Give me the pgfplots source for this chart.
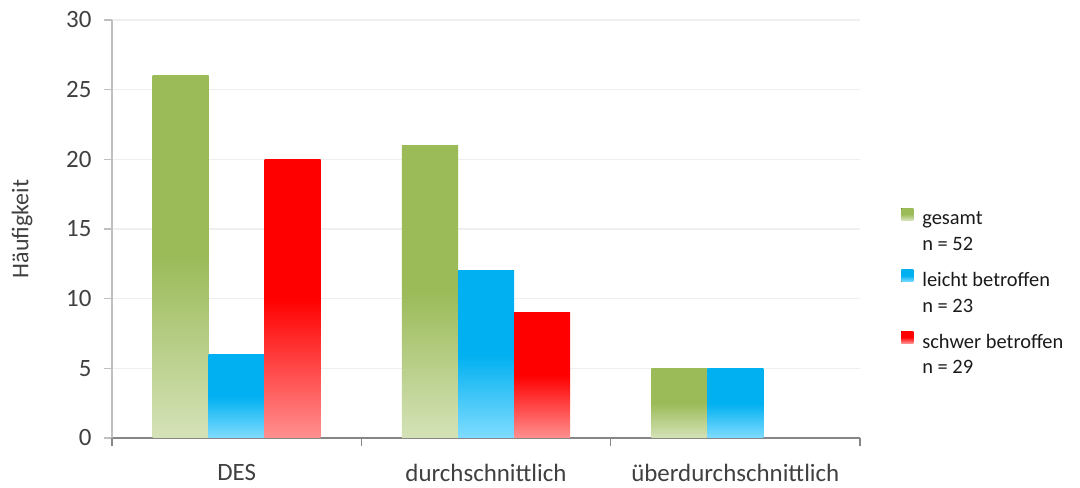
\documentclass[border=0pt]{standalone}
\usepackage{fontspec}
\setmainfont{Carlito}
\usepackage{pgfplots}
\pgfplotsset{compat=1.18}

\definecolor{txt}{HTML}{404040}
\definecolor{legtxt}{HTML}{1A1A1A}
\definecolor{gesamtTop}{HTML}{9BBB59}
\definecolor{gesamtBot}{HTML}{D5E2B8}
\definecolor{leichtTop}{HTML}{00B0F0}
\definecolor{leichtBot}{HTML}{80DCFF}
\definecolor{schwerTop}{HTML}{FF0000}
\definecolor{schwerBot}{HTML}{FF9090}
\definecolor{gridc}{HTML}{EFEFEF}
\definecolor{yaxisc}{HTML}{BFBFBF}
\definecolor{xaxisc}{HTML}{868686}

% each bar is its own plot, so that every bar gets its own gradient
\pgfplotsset{
  gesamt/.style={draw=none, bar shift=-56bp,
    top color=gesamtTop, bottom color=gesamtBot, middle color=gesamtTop},
  leicht/.style={draw=none, bar shift=0bp,
    top color=leichtTop, bottom color=leichtBot, middle color=leichtTop},
  schwer/.style={draw=none, bar shift=56bp,
    top color=schwerTop, bottom color=schwerBot, middle color=schwerTop},
}

\begin{document}
\begin{tikzpicture}[x=1bp,y=1bp]
\begin{axis}[
  at={(0,0)}, anchor=south west,
  scale only axis, width=748bp, height=418bp,
  ybar=0pt, bar width=56bp,
  ymin=0, ymax=30, ytick={0,5,...,30},
  xmin=-0.5, xmax=2.5,
  xtick={0,1,2},
  xticklabels={DES, durchschnittlich, überdurchschnittlich},
  xtick style={draw=none},
  extra x ticks={-0.5,0.5,1.5,2.5},
  extra x tick labels={},
  extra x tick style={xtick style={draw=xaxisc, line width=1.5bp}, grid=none},
  tick align=outside, major tick length=8bp,
  ytick style={draw=yaxisc, line width=1.2bp},
  axis x line*=bottom, axis y line*=left,
  x axis line style={-, draw=xaxisc, line width=2bp},
  y axis line style={-, draw=yaxisc, line width=1.3bp},
  ymajorgrids, grid style={draw=gridc, line width=1.5bp},
  /pgf/number format/assume math mode=true,
  tick label style={font=\fontsize{25}{30}\selectfont, text=txt},
  yticklabel style={xshift=-9bp},
  xticklabel style={yshift=-17bp, inner sep=1bp},
  ylabel={Häufigkeit},
  ylabel style={font=\fontsize{24}{29}\selectfont, text=txt,
    at={(axis description cs:-0.1203,0.5)}, anchor=center},
  legend cell align=left,
  legend image code/.code={\fill[#1] (0bp,-3bp) rectangle (12bp,9bp);},
  legend style={at={(axis description cs:1.055,0.556)}, anchor=north west,
    draw=none, fill=none, inner sep=0pt, row sep=39bp, column sep=7bp,
    font=\fontsize{20.5}{24.5}\selectfont, text=legtxt},
]
% gesamt, n = 52
\addplot[gesamt] coordinates {(0,26)};
\addlegendentry{\begin{tabular}[t]{@{}l@{}}gesamt\\[1.5bp]n = 52\end{tabular}}
\addplot[gesamt, forget plot] coordinates {(1,21)};
\addplot[gesamt, forget plot] coordinates {(2,5)};
% leicht betroffen, n = 23
\addplot[leicht] coordinates {(0,6)};
\addlegendentry{\begin{tabular}[t]{@{}l@{}}leicht betroffen\\[1.5bp]n = 23\end{tabular}}
\addplot[leicht, forget plot] coordinates {(1,12)};
\addplot[leicht, forget plot] coordinates {(2,5)};
% schwer betroffen, n = 29
\addplot[schwer] coordinates {(0,20)};
\addlegendentry{\begin{tabular}[t]{@{}l@{}}schwer betroffen\\[1.5bp]n = 29\end{tabular}}
\addplot[schwer, forget plot] coordinates {(1,9)};
\end{axis}
\pgfresetboundingbox
\path[use as bounding box] (-112bp,-50bp) rectangle (968bp,438bp);
\end{tikzpicture}
\end{document}
